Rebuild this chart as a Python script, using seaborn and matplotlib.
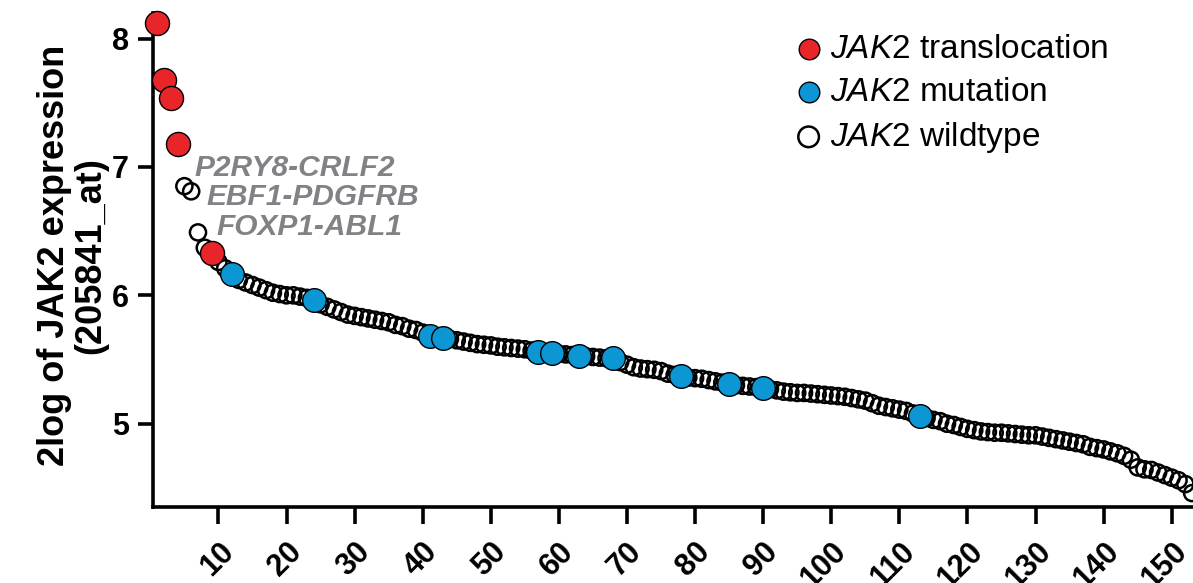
import numpy as np
import pandas as pd
import seaborn as sns
import matplotlib.pyplot as plt

# EXPRESSION VALUES, RANKED FROM HIGH TO LOW
expression = [
    8.12, 7.68, 7.54, 7.18, 6.85, 6.81, 6.49, 6.37, 6.33, 6.26,
    6.21, 6.17, 6.12, 6.10, 6.08, 6.06, 6.04, 6.02, 6.01, 6.00,
    6.00, 5.99, 5.98, 5.96, 5.93, 5.91, 5.89, 5.87, 5.85, 5.84,
    5.83, 5.82, 5.81, 5.80, 5.79, 5.77, 5.76, 5.74, 5.73, 5.71,
    5.68, 5.68, 5.67, 5.66, 5.65, 5.64, 5.63, 5.62, 5.615, 5.61,
    5.60, 5.595, 5.59, 5.585, 5.58, 5.57, 5.56, 5.555, 5.55, 5.545,
    5.54, 5.535, 5.53, 5.525, 5.52, 5.515, 5.51, 5.51, 5.48, 5.46,
    5.44, 5.43, 5.425, 5.42, 5.41, 5.39, 5.38, 5.37, 5.36, 5.355,
    5.35, 5.34, 5.33, 5.32, 5.31, 5.30, 5.295, 5.29, 5.285, 5.28,
    5.27, 5.26, 5.25, 5.245, 5.24, 5.24, 5.235, 5.23, 5.225, 5.22,
    5.215, 5.21, 5.20, 5.19, 5.18, 5.16, 5.14, 5.13, 5.12, 5.11,
    5.10, 5.08, 5.06, 5.045, 5.03, 5.02, 5.00, 4.99, 4.975, 4.96,
    4.95, 4.94, 4.935, 4.93, 4.93, 4.925, 4.92, 4.915, 4.91, 4.91,
    4.90, 4.89, 4.88, 4.87, 4.86, 4.85, 4.84, 4.82, 4.81, 4.80,
    4.785, 4.77, 4.75, 4.72, 4.66, 4.645, 4.64, 4.62, 4.60, 4.58,
    4.56, 4.53, 4.46,
]

# RANKS OF THE JAK2 ALTERED CASES
translocation_ranks = [1, 2, 3, 4, 9]
mutation_ranks = [12, 24, 41, 43, 57, 59, 63, 68, 78, 85, 90, 113]

# FUSION GENES NAMED NEXT TO THE TOP CASES
fusion_labels = ['P2RY8-CRLF2', 'EBF1-PDGFRB', 'FOXP1-ABL1']

x_ticks = list(range(10, 151, 10))
y_ticks = [5, 6, 7, 8]

# BUILD TABLE
ranks = np.arange(1, len(expression) + 1)
group = np.where(np.isin(ranks, translocation_ranks), 'translocation',
                 np.where(np.isin(ranks, mutation_ranks), 'mutation', 'wildtype'))
df = pd.DataFrame({'rank': ranks, 'expr': expression, 'group': group})

# STYLE
sns.set_style('ticks')
plt.rcParams['font.family'] = ['Liberation Sans', 'DejaVu Sans']
plt.rcParams['mathtext.fontset'] = 'custom'
plt.rcParams['mathtext.it'] = 'Liberation Sans:italic'
plt.rcParams['mathtext.rm'] = 'Liberation Sans'
for key in ['text.color', 'axes.labelcolor', 'xtick.color', 'ytick.color']:
    plt.rcParams[key] = 'black'

red = '#E8262A'
blue = '#0C96D3'
grey = '#808285'

fig = plt.figure(figsize=(11.93, 5.83), dpi=100)
ax = fig.add_axes([0.128, 0.130, 0.871, 0.848])

# WILDTYPE FIRST SO THE COLOURED DOTS SIT ON TOP
sns.scatterplot(data=df[df['group'] == 'wildtype'], x='rank', y='expr',
                ax=ax, s=135, facecolor='none', edgecolor='black',
                linewidth=1.8, label=r'$\mathit{JAK2}$ wildtype',
                clip_on=False, zorder=3)
sns.scatterplot(data=df[df['group'] == 'mutation'], x='rank', y='expr',
                ax=ax, s=290, color=blue, edgecolor='black',
                linewidth=1.0, label=r'$\mathit{JAK2}$ mutation',
                clip_on=False, zorder=4)
sns.scatterplot(data=df[df['group'] == 'translocation'], x='rank', y='expr',
                ax=ax, s=300, color=red, edgecolor='black',
                linewidth=1.0, label=r'$\mathit{JAK2}$ translocation',
                clip_on=False, zorder=5)

# FUSION LABELS
label_pos = [(6.5, 6.99), (8.2, 6.765), (9.7, 6.53)]
for name, (lx, ly) in zip(fusion_labels, label_pos):
    ax.text(lx, ly, name, color=grey, fontsize=21.5, fontweight='bold',
            fontstyle='italic', ha='left', va='center', zorder=6)

# AXES
ax.set_xlim(0.35, 152.95)
ax.set_ylim(4.35, 8.2)
ax.set_xticks(x_ticks)
ax.set_yticks(y_ticks)
ax.set_xticklabels([str(t) for t in x_ticks], rotation=45, ha='right',
                   rotation_mode='anchor', fontsize=22, fontweight='bold')
ax.set_yticklabels([str(t) for t in y_ticks], fontsize=22, fontweight='bold')
ax.tick_params(axis='x', length=12, width=2.6, pad=9)
ax.tick_params(axis='y', length=11, width=2.6, pad=6)
for side in ['left', 'bottom']:
    ax.spines[side].set_linewidth(2.6)
    ax.spines[side].set_color('black')
sns.despine(ax=ax)

ax.set_xlabel('')
ax.set_ylabel('2log of JAK2 expression\n(205841_at)', fontsize=26,
              fontweight='bold', multialignment='center', linespacing=1.05)
ax.yaxis.set_label_coords(-0.043, 0.51)

# LEGEND IN ORDER: TRANSLOCATION, MUTATION, WILDTYPE
handles, labels = ax.get_legend_handles_labels()
order = [2, 1, 0]
leg = ax.legend([handles[i] for i in order], [labels[i] for i in order],
                loc='upper left', bbox_to_anchor=(0.62, 0.958), frameon=False,
                fontsize=24, handlelength=0.7, handletextpad=0.3,
                labelspacing=0.36, borderpad=0, borderaxespad=0)
for h in leg.legend_handles:
    h.set_sizes([220])

fig.savefig('out.png', dpi=100)
